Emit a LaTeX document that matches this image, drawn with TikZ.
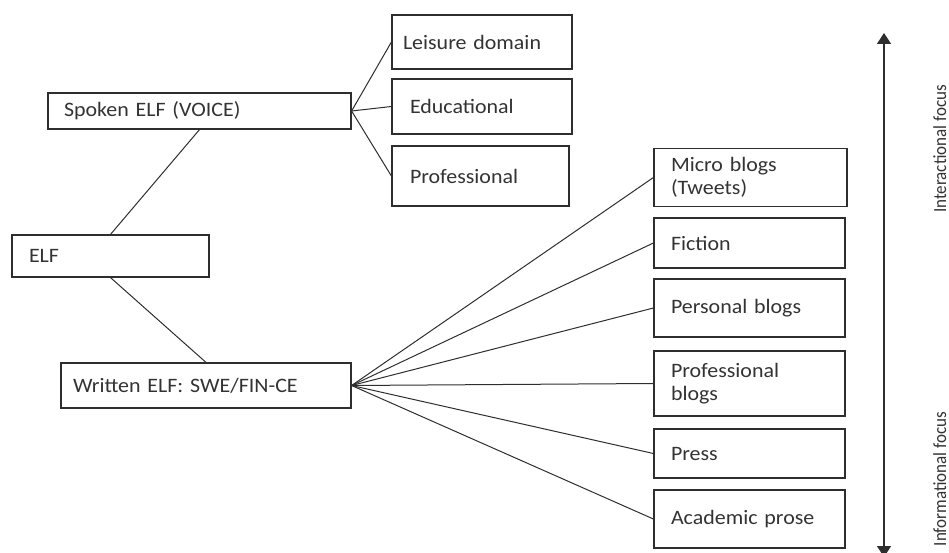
\documentclass[tikz,border=0pt]{standalone}
\usepackage{fontspec}
\setmainfont{Carlito}[FakeStretch=1.07, WordSpace=0.7]
\newfontfamily\axisfont{Carlito}[FakeStretch=0.92]
\usetikzlibrary{arrows.meta}
\definecolor{ink}{HTML}{2E2E2E}
\definecolor{txt}{HTML}{333333}
\begin{document}
\begin{tikzpicture}[x=1pt,y=-1pt,
  % box: {outer width}{height}{left padding}{text width}
  bx/.style n args={4}{draw=ink, line width=1.2pt, text=txt,
    font=\fontsize{20.5}{23.5}\selectfont, align=left,
    inner ysep=0pt, inner xsep=#3, text width=#4,
    minimum width=#1, minimum height=#2},
  link/.style={draw=ink, line width=1pt},
  axislabel/.style={rotate=90, anchor=base, inner sep=0pt, text=txt,
    font=\axisfont\fontsize{18.5}{20}\selectfont}]
\useasboundingbox (0,0) rectangle (949,553);

% left side of the tree
\node[bx={303pt}{36pt}{16pt}{271pt}] (spoken) at (199.5,111) {Spoken ELF (VOICE)};
\node[bx={197pt}{42pt}{17pt}{163pt}] (elf) at (110.5,256) {ELF};
\node[bx={290pt}{45pt}{12pt}{266pt}] (written) at (206,385.5) {Written ELF: SWE/FIN-CE};

% spoken registers
\node[bx={180pt}{54pt}{11pt}{158pt}] (leisure) at (482,42) {Leisure domain};
\node[bx={180pt}{55pt}{18pt}{144pt}] (edu) at (482,106.5) {Educational};
\node[bx={177pt}{60pt}{18pt}{141pt}] (prof) at (480.5,176) {Professional};

% written registers
\node[bx={193pt}{58pt}{17pt}{159pt}] (micro) at (750.5,177.5) {Micro blogs\\(Tweets)};
\node[bx={191pt}{50pt}{17pt}{157pt}] (fiction) at (749.5,243) {Fiction};
\node[bx={191pt}{58pt}{17pt}{157pt}] (personal) at (749.5,308) {Personal blogs};
\node[bx={191pt}{65pt}{17pt}{157pt}] (profblogs) at (749.5,383.5) {Professional\\blogs};
\node[bx={191pt}{49pt}{17pt}{157pt}] (press) at (749.5,453.5) {Press};
\node[bx={191pt}{58pt}{17pt}{157pt}] (academic) at (749.5,519) {Academic prose};

% tree connectors
\draw[link] (elf.north) -- (spoken.south);
\draw[link] (elf.south) -- (written.north);
\foreach \t in {leisure,edu,prof}
  \draw[link] (spoken.east) -- (\t.west);
\foreach \t in {micro,fiction,personal,profblogs,press,academic}
  \draw[link] (written.east) -- (\t.west);

% interactional / informational axis
\coordinate (atop) at (884,33);
\coordinate (abot) at (884,557);
\draw[draw=ink, line width=1.5pt,
  {Triangle[width=14pt,length=11pt]}-{Triangle[width=14pt,length=11pt]}]
  (abot) -- (atop);
\node[axislabel] (inter) at (946,149) {Interactional focus};
\node[axislabel] (info) at (946,479) {Informational focus};
\end{tikzpicture}
\end{document}
